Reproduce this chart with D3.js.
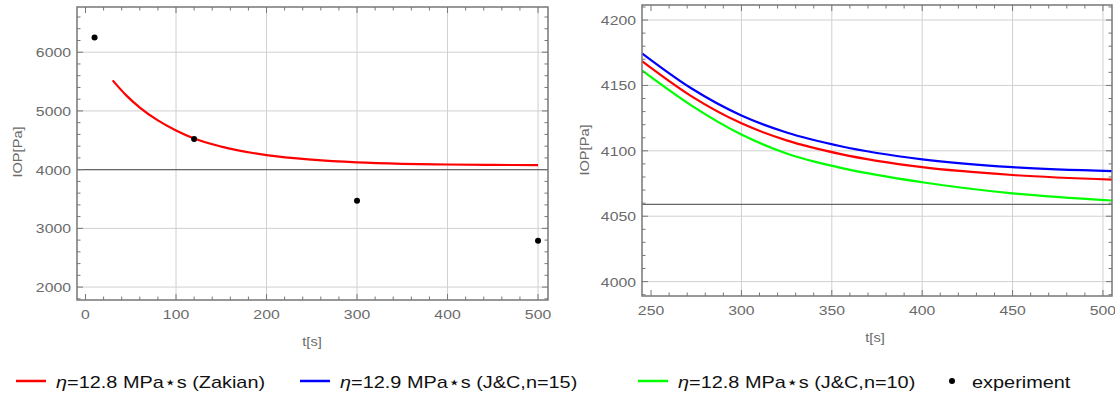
<!DOCTYPE html>
<html>
<head>
<meta charset="utf-8">
<script src="https://cdn.jsdelivr.net/npm/d3@7"></script>
<style>
  body { margin: 0; background: #fff; }
  svg text { font-family: "Liberation Sans", Arial, sans-serif; }
</style>
</head>
<body>
<svg id="chart" width="1115" height="394"></svg>
<script>
// left panel: Zakian curve + experiment points
var zakT = [30, 45, 60, 80, 100, 120, 150, 200, 250, 300, 350, 400, 450, 500];
var zakIOP = [5520, 5265, 5058, 4838, 4666, 4530, 4392, 4248, 4170, 4124, 4100, 4088, 4081, 4077];
var expT = [10, 120, 300, 500];
var expIOP = [6250, 4520, 3470, 2790];

// right panel: zoomed comparison
var zoomT = [245, 272, 300, 325, 355, 400, 450, 505];
var zoomRed = [4168.5, 4142, 4121, 4108, 4097.5, 4087.5, 4081.5, 4078];
var zoomBlue = [4174.5, 4148, 4127, 4114, 4103.5, 4093.5, 4087.5, 4084.5];
var zoomGreen = [4161.5, 4135, 4112.5, 4098, 4087, 4076, 4067.5, 4062];

var leftXTicks = [0, 100, 200, 300, 400, 500];
var leftYTicks = [2000, 3000, 4000, 5000, 6000];
var rightXTicks = [250, 300, 350, 400, 450, 500];
var rightYTicks = [4000, 4050, 4100, 4150, 4200];

var legendLabels = ["=12.8 MPa\u22C6s (Zakian)", "=12.9 MPa\u22C6s (J&C,n=15)", "=12.8 MPa\u22C6s (J&C,n=10)", "experiment"];
var legendColors = ["#ff0000", "#0000ff", "#00ff00", "#000"];

var svg = d3.select("#chart");

var frameColor = "#777";
var gridColor = "#d0d0d0";
var labelColor = "#6a6a6a";
var stretch = 1.17; //the reference text is drawn a little wide

//text with a horizontal stretch, anchored at (x,y)
function wideText (parent, x, y, anchor, size, color, str, rot) {
    var tr = "translate(" + x + "," + y + ")" + (rot ? " rotate(" + rot + ")" : "") + " scale(" + stretch + ",1)";
    return parent.append("text")
        .attr("transform", tr)
        .attr("text-anchor", anchor)
        .attr("font-size", size)
        .attr("fill", color)
        .text(str);
}

function drawPanel (cfg) {
    var x = d3.scaleLinear().domain(cfg.xDomain).range([cfg.left, cfg.right]);
    var y = d3.scaleLinear().domain(cfg.yDomain).range([cfg.bottom, cfg.top]);
    var g = svg.append("g");

    var clipId = "clip" + cfg.id;
    svg.append("clipPath").attr("id", clipId)
        .append("rect")
        .attr("x", cfg.left).attr("y", cfg.top)
        .attr("width", cfg.right - cfg.left).attr("height", cfg.bottom - cfg.top);

    //grid lines
    g.selectAll(".vgrid").data(cfg.gridX).enter().append("line")
        .attr("x1", x).attr("x2", x)
        .attr("y1", cfg.top).attr("y2", cfg.bottom)
        .attr("stroke", gridColor).attr("stroke-width", 1);
    g.selectAll(".hgrid").data(cfg.yTicks).enter().append("line")
        .attr("x1", cfg.left).attr("x2", cfg.right)
        .attr("y1", y).attr("y2", y)
        .attr("stroke", gridColor).attr("stroke-width", 1);

    //dark reference line
    g.append("line")
        .attr("x1", cfg.left).attr("x2", cfg.right)
        .attr("y1", y(cfg.baseLine)).attr("y2", y(cfg.baseLine))
        .attr("stroke", "#666").attr("stroke-width", 1.2);

    //curves
    var plot = g.append("g").attr("clip-path", "url(#" + clipId + ")");
    cfg.series.forEach(function (s) {
        var line = d3.line()
            .x(function (d, i) { return x(s.t[i]); })
            .y(function (d) { return y(d); })
            .curve(d3.curveMonotoneX);
        plot.append("path")
            .attr("d", line(s.v))
            .attr("fill", "none")
            .attr("stroke", s.color)
            .attr("stroke-width", 2.2);
    });

    if (cfg.points) {
        plot.selectAll(".pt").data(cfg.points.v).enter().append("circle")
            .attr("cx", function (d, i) { return x(cfg.points.t[i]); })
            .attr("cy", function (d) { return y(d); })
            .attr("r", 3)
            .attr("fill", "#000");
    }

    //frame ticks, inward on all four sides
    var xMinor = d3.range(Math.ceil(cfg.xDomain[0] / cfg.xMinorStep) * cfg.xMinorStep, cfg.xDomain[1] + 0.001, cfg.xMinorStep);
    var yMinor = d3.range(Math.ceil(cfg.yDomain[0] / cfg.yMinorStep) * cfg.yMinorStep, cfg.yDomain[1] + 0.001, cfg.yMinorStep);
    function isMajor (v, list) { return list.some(function (m) { return Math.abs(m - v) < 1e-6; }); }

    xMinor.forEach(function (v) {
        var len = isMajor(v, cfg.xTicks) ? 6 : 3.5;
        g.append("line").attr("x1", x(v)).attr("x2", x(v))
            .attr("y1", cfg.bottom).attr("y2", cfg.bottom - len)
            .attr("stroke", frameColor).attr("stroke-width", 1);
        g.append("line").attr("x1", x(v)).attr("x2", x(v))
            .attr("y1", cfg.top).attr("y2", cfg.top + len)
            .attr("stroke", frameColor).attr("stroke-width", 1);
    });
    yMinor.forEach(function (v) {
        var len = isMajor(v, cfg.yTicks) ? 6 : 3.5;
        g.append("line").attr("x1", cfg.left).attr("x2", cfg.left + len)
            .attr("y1", y(v)).attr("y2", y(v))
            .attr("stroke", frameColor).attr("stroke-width", 1);
        g.append("line").attr("x1", cfg.right).attr("x2", cfg.right - len)
            .attr("y1", y(v)).attr("y2", y(v))
            .attr("stroke", frameColor).attr("stroke-width", 1);
    });

    g.append("rect")
        .attr("x", cfg.left).attr("y", cfg.top)
        .attr("width", cfg.right - cfg.left).attr("height", cfg.bottom - cfg.top)
        .attr("fill", "none").attr("stroke", frameColor).attr("stroke-width", 1.5);

    //tick labels
    cfg.xTicks.forEach(function (d) {
        wideText(g, x(d), cfg.bottom + 19, "middle", 13.5, labelColor, d);
    });
    cfg.yTicks.forEach(function (d) {
        wideText(g, cfg.left - 6, y(d) + 5, "end", 13.5, labelColor, d);
    });

    //axis labels
    wideText(g, cfg.xLabelX, cfg.bottom + 46, "middle", 12.5, labelColor, "t[s]");
    wideText(g, cfg.yLabelX, cfg.yLabelY, "middle", 12.5, labelColor, "IOP[Pa]", -90);
}

drawPanel({
    id: "L",
    left: 77, right: 548, top: 7, bottom: 300,
    xDomain: [-9.4, 511], yDomain: [1780, 6770],
    xTicks: leftXTicks, yTicks: leftYTicks,
    gridX: [100, 200, 300, 400, 500],
    xMinorStep: 20, yMinorStep: 200,
    baseLine: 4000,
    series: [{ t: zakT, v: zakIOP, color: "#ff0000" }],
    points: { t: expT, v: expIOP },
    xLabelX: 312, yLabelX: 22, yLabelY: 152
});

drawPanel({
    id: "R",
    left: 642, right: 1112, top: 5, bottom: 296,
    xDomain: [245, 505], yDomain: [3989, 4211.5],
    xTicks: rightXTicks, yTicks: rightYTicks,
    gridX: [300, 350, 400, 450, 500],
    xMinorStep: 10, yMinorStep: 10,
    baseLine: 4059,
    series: [
        { t: zoomT, v: zoomRed, color: "#ff0000" },
        { t: zoomT, v: zoomBlue, color: "#0000ff" },
        { t: zoomT, v: zoomGreen, color: "#00ff00" }
    ],
    xLabelX: 875, yLabelX: 589, yLabelY: 150
});

//legend along the bottom
var legendX = [16, 300, 638, 952];
var legend = svg.append("g").attr("transform", "translate(0,381)");
legendLabels.forEach(function (lab, i) {
    var item = legend.append("g").attr("transform", "translate(" + legendX[i] + ",0)");
    if (i < 3) {
        item.append("line").attr("x1", 0).attr("x2", 30)
            .attr("y1", 0).attr("y2", 0)
            .attr("stroke", legendColors[i]).attr("stroke-width", 2.5);
        var t = wideText(item, 40, 7, "start", 17, "#111", "");
        t.append("tspan").attr("font-style", "italic").text("\u03B7");
        t.append("tspan").text(lab);
    } else {
        item.append("circle").attr("cx", 0).attr("cy", 0).attr("r", 3).attr("fill", "#000");
        wideText(item, 20, 7, "start", 17, "#111", lab);
    }
});
</script>
</body>
</html>
